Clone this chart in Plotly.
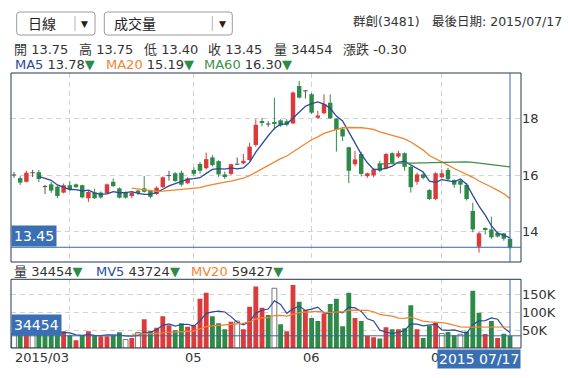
import numpy as np
import pandas as pd
import plotly.graph_objects as go

# ---------------- data ----------------
opens = [16.00, 15.89, 15.76, 16.08, 16.10, 15.59, 15.67, 15.59, 15.38, 15.64,
         15.67, 15.64, 15.18, 15.38, 15.38, 15.35, 15.76, 15.53, 15.38, 15.26,
         15.45, 15.53, 15.45, 15.33, 15.57, 15.98, 16.06, 16.08, 15.71, 16.18,
         16.39, 16.24, 16.62, 16.49, 16.02, 16.04, 16.38, 16.41, 16.53, 17.06,
         17.88, 17.80, 17.84, 17.93, 17.90, 17.82, 19.14, 18.97, 18.85, 18.02,
         18.18, 18.55, 17.99, 17.62, 16.98, 16.38, 16.74, 15.96, 15.99, 16.41,
         16.24, 16.77, 16.65, 16.77, 16.29, 15.76, 16.02, 15.47, 15.15, 15.92,
         16.18, 15.82, 15.80, 15.65, 14.73, 13.47, 14.12, 14.08, 13.96, 13.94,
         13.75]
highs = [16.10, 15.96, 16.15, 16.18, 16.18, 15.65, 15.75, 15.62, 15.70, 15.78,
         15.70, 15.66, 15.45, 15.52, 15.42, 15.70, 15.88, 15.56, 15.42, 15.42,
         15.48, 15.96, 15.48, 15.60, 15.95, 16.15, 16.10, 16.15, 15.92, 16.27,
         16.46, 16.79, 16.70, 16.52, 16.12, 16.40, 16.62, 16.74, 17.14, 17.97,
         18.02, 17.90, 18.73, 17.97, 17.97, 18.95, 19.32, 19.00, 18.90, 18.26,
         18.85, 18.85, 18.00, 17.70, 17.00, 16.85, 16.82, 16.08, 16.25, 16.50,
         16.78, 16.80, 16.85, 16.80, 16.32, 16.08, 16.10, 15.50, 16.10, 16.20,
         16.25, 15.85, 15.84, 15.72, 15.02, 14.00, 14.15, 14.53, 14.00, 13.96,
         13.75]
lows = [15.90, 15.65, 15.74, 15.93, 15.75, 15.33, 15.37, 15.18, 15.35, 15.45,
        15.55, 15.18, 15.05, 15.15, 15.16, 15.33, 15.58, 15.17, 15.17, 15.18,
        15.30, 15.38, 15.18, 15.30, 15.55, 15.80, 15.76, 15.60, 15.68, 15.98,
        16.05, 16.20, 16.30, 15.94, 15.86, 16.00, 16.35, 16.38, 16.50, 17.00,
        17.72, 17.70, 17.60, 17.70, 17.72, 17.80, 18.70, 18.70, 18.15, 17.99,
        18.15, 17.98, 16.83, 17.20, 15.71, 16.30, 15.95, 15.90, 15.92, 16.10,
        16.20, 16.38, 16.60, 16.15, 15.38, 15.65, 15.85, 15.12, 15.12, 15.88,
        15.80, 15.55, 15.35, 15.10, 13.98, 13.26, 13.90, 13.75, 13.80, 13.68,
        13.40]
closes = [16.00, 15.73, 16.08, 16.08, 15.86, 15.59, 15.45, 15.26, 15.64, 15.50,
          15.57, 15.21, 15.40, 15.18, 15.21, 15.67, 15.61, 15.20, 15.20, 15.38,
          15.38, 15.41, 15.23, 15.55, 15.92, 15.98, 15.79, 15.66, 15.88, 16.04,
          16.15, 16.56, 16.35, 16.02, 15.96, 16.38, 16.38, 16.50, 17.00, 17.77,
          17.86, 17.80, 17.80, 17.75, 17.78, 18.91, 18.73, 18.97, 18.20, 18.10,
          18.50, 18.00, 17.59, 17.36, 16.15, 16.55, 16.04, 16.06, 16.20, 16.15,
          16.74, 16.43, 16.77, 16.29, 15.57, 16.02, 15.90, 15.15, 16.06, 16.06,
          15.85, 15.66, 15.66, 15.15, 14.08, 13.94, 14.08, 13.80, 13.83, 13.75,
          13.45]
volumes = [42000, 45000, 52000, 40000, 44000, 48000, 45000, 36000, 47400, 36100,
           21900, 36100, 47400, 36100, 33200, 33200, 36100, 44600, 23800, 28500,
           43700, 81500, 47400, 56900, 90000, 64500, 50300, 70200, 59800, 64500,
           139000, 156000, 90000, 70200, 53100, 74000, 75900, 53100, 116600, 173400,
           113700, 92900, 168700, 67300, 47400, 178000, 130800, 107000, 85000, 75900,
           97600, 124000, 139000, 61600, 156000, 85000, 75900, 34000, 30400, 26600,
           58800, 53100, 53100, 56000, 121000, 53100, 28500, 62600, 72000, 40800,
           45500, 36000, 38900, 46500, 161900, 99500, 39800, 75900, 28500, 40000,
           34454]

month_start_idx = [9, 29, 48, 69]
month_labels = ["", "05", "06", "0"]   # "07" is mostly hidden behind the date box
first_month_label = "2015/03"
price_ticks = [14, 16, 18]
vol_ticks = [50000, 100000, 150000]
vol_tick_text = ["50K", "100K", "150K"]

stock_title = "群創(3481)"
last_date_title = "最後日期: 2015/07/17"
last_date_box = "2015 07/17"
ma_header = [("MA5", "13.78"), ("MA20", "15.19"), ("MA60", "16.30")]
mv_header = [("MV5", "43724"), ("MV20", "59427")]
change_text = "-0.30"
period_menu = "日線"
indicator_menu = "成交量"

# ---------------- styles ----------------
RED = "#dc3b3b"
GREEN = "#2e8a47"
DOJI = "#555555"
MA5C = "#2a4b9b"
MA20C = "#ef8530"
MA60C = "#3f8f4d"
GRID = "#d2d2d2"
BORDER = "#24384f"
CROSS = "#3a6aa6"
BOX = "#3b6fb4"
TXT = "#333333"
FONT = "DejaVu Sans, Noto Sans CJK TC, sans-serif"

W, H = 579, 378
L, R, T, B = 11, 521, 73, 348
PW, PH = R - L, B - T


def PX(px):
    return (px - L) / PW


def PY(py):
    return (B - py) / PH


price_dom = [PY(262), 1.0]
vol_dom = [0.0, PY(279.3)]

n = len(closes)
idx = list(range(n))
spacing = 6.2
x_first = 14.0
xrange_ = [(L - x_first) / spacing, (R - x_first) / spacing]

fig = go.Figure()

up = [i for i in idx if closes[i] > opens[i]]
dn = [i for i in idx if closes[i] < opens[i]]
dj = [i for i in idx if closes[i] == opens[i]]


def wicks(ids):
    xs, ys = [], []
    for i in ids:
        xs += [i, i, None]
        ys += [lows[i], highs[i], None]
    return xs, ys


for ids, col in ((up, RED), (dn, GREEN), (dj, DOJI)):
    xs, ys = wicks(ids)
    fig.add_trace(go.Scatter(x=xs, y=ys, mode="lines", line=dict(color=col, width=1),
                             xaxis="x", yaxis="y", hoverinfo="skip"))
xs, ys = [], []
for i in dj:
    xs += [i - 0.36, i + 0.36, None]
    ys += [closes[i], closes[i], None]
fig.add_trace(go.Scatter(x=xs, y=ys, mode="lines", line=dict(color=DOJI, width=1),
                         xaxis="x", yaxis="y", hoverinfo="skip"))

for ids, col in ((up, RED), (dn, GREEN)):
    fig.add_trace(go.Bar(x=ids,
                         y=[abs(closes[i] - opens[i]) for i in ids],
                         base=[min(opens[i], closes[i]) for i in ids],
                         width=0.72, marker=dict(color=col, line=dict(width=0)),
                         xaxis="x", yaxis="y", hoverinfo="skip"))

cs = pd.Series(closes)
for win, col in ((5, MA5C), (20, MA20C), (60, MA60C)):
    fig.add_trace(go.Scatter(x=idx, y=cs.rolling(win).mean(), mode="lines",
                             line=dict(color=col, width=1.3), xaxis="x", yaxis="y",
                             hoverinfo="skip"))

# volume bars coloured by close vs previous close
vfill, vline, vlw = [], [], []
for i in idx:
    if i == 0 or closes[i] == closes[i - 1]:
        vfill.append("white"); vline.append("#777777"); vlw.append(1)
    elif closes[i] > closes[i - 1]:
        vfill.append(RED); vline.append(RED); vlw.append(0)
    else:
        vfill.append(GREEN); vline.append(GREEN); vlw.append(0)
fig.add_trace(go.Bar(x=idx, y=volumes, width=0.78,
                     marker=dict(color=vfill, line=dict(color=vline, width=vlw)),
                     xaxis="x2", yaxis="y2", hoverinfo="skip"))
vs = pd.Series(volumes)
for win, col in ((5, MA5C), (20, MA20C)):
    fig.add_trace(go.Scatter(x=idx, y=vs.rolling(win).mean(), mode="lines",
                             line=dict(color=col, width=1.2), xaxis="x2", yaxis="y2",
                             hoverinfo="skip"))

axis_common = dict(range=xrange_, tickvals=month_start_idx, showticklabels=False,
                   showgrid=True, gridcolor=GRID, griddash="5px,4px", gridwidth=1,
                   zeroline=False, ticks="", showline=False, fixedrange=True)

fig.update_layout(
    width=W, height=H,
    margin=dict(l=L, r=W - R, t=T, b=H - B),
    paper_bgcolor="white", plot_bgcolor="white",
    showlegend=False, barmode="overlay", hovermode=False,
    font=dict(family=FONT, size=13, color=TXT),
    xaxis=dict(domain=[0, 1], anchor="y", **axis_common),
    xaxis2=dict(domain=[0, 1], anchor="y2", matches="x", **axis_common),
    yaxis=dict(domain=price_dom, anchor="x", side="right", range=[12.93, 19.60],
               tickvals=price_ticks, showgrid=True, gridcolor=GRID, griddash="5px,4px",
               zeroline=False, ticks="", tickfont=dict(size=13, color=TXT, family=FONT)),
    yaxis2=dict(domain=vol_dom, anchor="x2", side="right", range=[0, 194000],
                tickvals=vol_ticks, ticktext=vol_tick_text, showgrid=True, gridcolor=GRID,
                griddash="5px,4px", zeroline=False, ticks="",
                tickfont=dict(size=13, color=TXT, family=FONT)),
)

shapes = []
# panel borders
for yref in ("y domain", "y2 domain"):
    shapes.append(dict(type="rect", xref="paper", yref=yref, x0=0, x1=1, y0=0, y1=1,
                       line=dict(color=BORDER, width=1), fillcolor="rgba(0,0,0,0)"))
# crosshair at the last bar
last = n - 1
shapes.append(dict(type="line", xref="paper", yref="y", x0=0, x1=1,
                   y0=closes[last], y1=closes[last], line=dict(color=CROSS, width=1)))
shapes.append(dict(type="line", xref="x", yref="y domain", x0=last, x1=last, y0=0, y1=1,
                   line=dict(color=CROSS, width=1)))
shapes.append(dict(type="line", xref="paper", yref="y2", x0=0, x1=1,
                   y0=volumes[last], y1=volumes[last], line=dict(color=CROSS, width=1)))
shapes.append(dict(type="line", xref="x2", yref="y2 domain", x0=last, x1=last, y0=0, y1=1,
                   line=dict(color=CROSS, width=1)))


def rounded(px0, py0, px1, py1, r=3):
    x0, x1 = PX(px0), PX(px1)
    top, bot = PY(py0), PY(py1)
    rx, ry = r / PW, r / PH
    return (f"M {x0+rx},{top} L {x1-rx},{top} Q {x1},{top} {x1},{top-ry} "
            f"L {x1},{bot+ry} Q {x1},{bot} {x1-rx},{bot} L {x0+rx},{bot} "
            f"Q {x0},{bot} {x0},{bot+ry} L {x0},{top-ry} Q {x0},{top} {x0+rx},{top} Z")


for (a, b, sep) in ((16.7, 95, 75), (104.3, 232.3, 212.3)):
    shapes.append(dict(type="path", xref="paper", yref="paper", path=rounded(a, 12, b, 35),
                       line=dict(color="#9a9a9a", width=1), fillcolor="white"))
    shapes.append(dict(type="line", xref="paper", yref="paper", x0=PX(sep), x1=PX(sep),
                       y0=PY(16), y1=PY(31), line=dict(color="#b5b5b5", width=1)))
fig.update_layout(shapes=shapes)

ann = []


def text_at(px, py, text, size=13, color=TXT, xanchor="left"):
    ann.append(dict(xref="paper", yref="paper", x=PX(px), y=PY(py), text=text,
                    showarrow=False, xanchor=xanchor, yanchor="middle",
                    font=dict(family=FONT, size=size, color=color)))


# dropdowns
text_at(25.5, 23.5, period_menu, size=14, color="#222222")
text_at(84.5, 24, "▼", size=9, color="#222222", xanchor="center")
text_at(111.5, 23.5, indicator_menu, size=14, color="#222222")
text_at(222, 24, "▼", size=9, color="#222222", xanchor="center")
# title right
text_at(350.5, 21.5, stock_title, size=12.5)
text_at(430, 21.5, last_date_title, size=12.5)

# OHLC row
row1 = [(11.5, f"開 {opens[last]:.2f}"), (76.5, f"高 {highs[last]:.2f}"),
        (141.5, f"低 {lows[last]:.2f}"), (206, f"收 {closes[last]:.2f}"),
        (272, f"量 {volumes[last]}"), (341, f"漲跌 {change_text}")]
for px, t in row1:
    text_at(px, 49, t)

TRI = f"<span style='color:{GREEN}'>▼</span>"
for px, (lab, val), col in zip((12.5, 103.5, 202), ma_header, (MA5C, MA20C, MA60C)):
    text_at(px, 64.5, f"<span style='color:{col}'>{lab}</span> {val}{TRI}")

# volume header row
text_at(12, 271, f"量 {volumes[last]}{TRI}")
for px, (lab, val), col in zip((94, 188.5), mv_header, (MA5C, MA20C)):
    text_at(px, 271, f"<span style='color:{col}'>{lab}</span> {val}{TRI}")

# bottom month labels
ann.append(dict(xref="paper", yref="paper", x=PX(12.5), y=PY(357), text=first_month_label,
                showarrow=False, xanchor="left", yanchor="middle",
                font=dict(family=FONT, size=13, color=TXT)))
for xi, lab in zip(month_start_idx, month_labels):
    if lab == "0":
        ann.append(dict(xref="paper", yref="paper", x=PX(441), y=PY(357), text=lab,
                        showarrow=False, xanchor="right", yanchor="middle",
                        font=dict(family=FONT, size=13, color=TXT)))
    elif lab:
        ann.append(dict(xref="x2", yref="paper", x=xi, y=PY(357), text=lab,
                        showarrow=False, xanchor="center", yanchor="middle",
                        font=dict(family=FONT, size=13, color=TXT)))

# value boxes
ann.append(dict(xref="paper", yref="y", x=0, y=closes[last], text=f"{closes[last]:.2f}",
                showarrow=False, xanchor="left", yanchor="bottom", bgcolor=BOX,
                borderpad=2, font=dict(family=FONT, size=14, color="white")))
ann.append(dict(xref="paper", yref="y2", x=0, y=volumes[last], text=f"{volumes[last]}",
                showarrow=False, xanchor="left", yanchor="bottom", bgcolor=BOX,
                borderpad=2, font=dict(family=FONT, size=14, color="white")))
ann.append(dict(xref="paper", yref="paper", x=1, y=PY(348.5), text=last_date_box,
                showarrow=False, xanchor="right", yanchor="top", bgcolor=BOX,
                borderpad=1, font=dict(family=FONT, size=14, color="white")))

fig.update_layout(annotations=ann)
fig.write_html("out.html", config={"displayModeBar": False},
               post_script="document.body.style.margin='0';document.body.style.padding='0';")
